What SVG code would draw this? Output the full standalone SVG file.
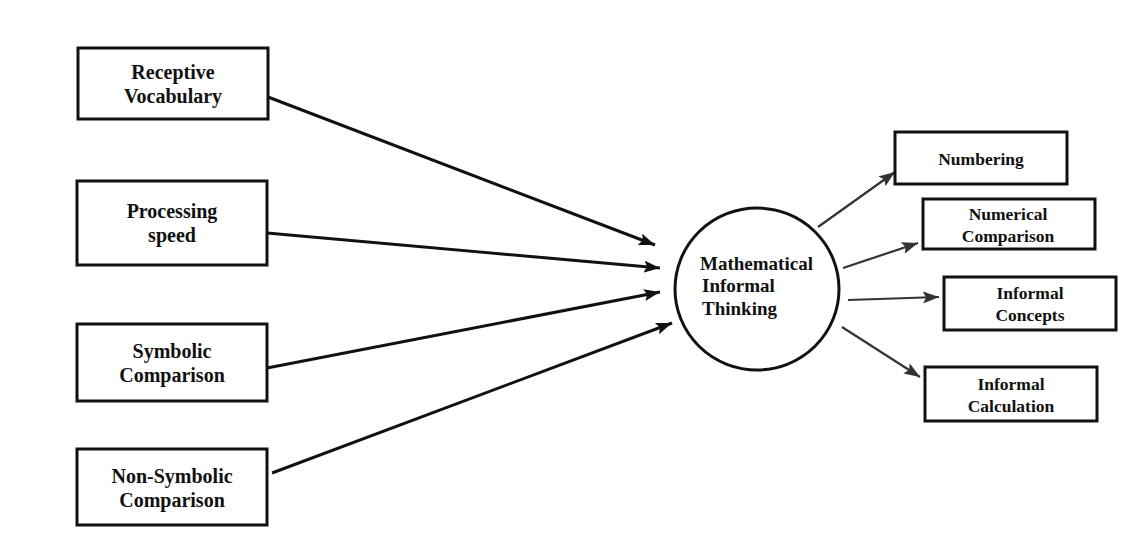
<svg xmlns="http://www.w3.org/2000/svg" width="1137" height="556" viewBox="0 0 1137 556">
<defs>
<style>
.box{fill:#fff;stroke:#111;stroke-width:3}
.t{font-family:"Liberation Serif","Times New Roman",serif;font-weight:bold;fill:#111;text-anchor:middle}
.l{font-size:20px}
.r{font-size:17.5px}
.c{font-size:19px;text-anchor:start}
.a1{stroke:#111;stroke-width:3;fill:none}
.a2{stroke:#333;stroke-width:2.2;fill:none}
</style>
<marker id="h1" viewBox="0 0 16 12" refX="16" refY="6" markerWidth="16" markerHeight="12" markerUnits="userSpaceOnUse" orient="auto">
<path d="M0,0 L16,6 L0,12 L3,6 Z" fill="#111"/>
</marker>
<marker id="h2" viewBox="0 0 16 12" refX="16" refY="6" markerWidth="16" markerHeight="12" markerUnits="userSpaceOnUse" orient="auto">
<path d="M0,0 L16,6 L0,12 L3,6 Z" fill="#333"/>
</marker>
</defs>
<rect width="1137" height="556" fill="#fff"/>
<g id="connectors">
<line class="a1" x1="268" y1="97" x2="655" y2="245" marker-end="url(#h1)"/>
<line class="a1" x1="267" y1="233" x2="660" y2="268" marker-end="url(#h1)"/>
<line class="a1" x1="267" y1="368" x2="660" y2="292" marker-end="url(#h1)"/>
<line class="a1" x1="272" y1="473" x2="672" y2="323" marker-end="url(#h1)"/>
<line class="a2" x1="818" y1="227" x2="895" y2="172" marker-end="url(#h2)"/>
<line class="a2" x1="843" y1="268" x2="918" y2="243" marker-end="url(#h2)"/>
<line class="a2" x1="848" y1="300" x2="939" y2="297" marker-end="url(#h2)"/>
<line class="a2" x1="842" y1="327" x2="920" y2="377" marker-end="url(#h2)"/>
</g>
<g id="receptive-vocabulary">
<rect class="box" x="78" y="48" width="190" height="71"/>
<text class="t l" x="173" y="79">Receptive</text>
<text class="t l" x="173" y="103">Vocabulary</text>
</g>
<g id="processing-speed">
<rect class="box" x="77" y="181" width="190" height="84"/>
<text class="t l" x="172" y="218">Processing</text>
<text class="t l" x="172" y="242">speed</text>
</g>
<g id="symbolic-comparison">
<rect class="box" x="77" y="324" width="190" height="77"/>
<text class="t l" x="172" y="358">Symbolic</text>
<text class="t l" x="172" y="382">Comparison</text>
</g>
<g id="non-symbolic-comparison">
<rect class="box" x="77" y="449" width="190" height="76"/>
<text class="t l" x="172" y="483">Non-Symbolic</text>
<text class="t l" x="172" y="507">Comparison</text>
</g>
<g id="mathematical-informal-thinking">
<ellipse cx="757" cy="289" rx="82" ry="81" fill="#fff" stroke="#111" stroke-width="3"/>
<text class="t c" x="700" y="270">Mathematical</text>
<text class="t c" x="702" y="292">Informal</text>
<text class="t c" x="702" y="315">Thinking</text>
</g>
<g id="numbering">
<rect class="box" x="895" y="132" width="172" height="52" stroke-width="2.5"/>
<text class="t r" x="981" y="165">Numbering</text>
</g>
<g id="numerical-comparison">
<rect class="box" x="923" y="199" width="172" height="50" stroke-width="2.5"/>
<text class="t r" x="1008" y="220">Numerical</text>
<text class="t r" x="1008" y="242">Comparison</text>
</g>
<g id="informal-concepts">
<rect class="box" x="944" y="277" width="172" height="53" stroke-width="2.5"/>
<text class="t r" x="1030" y="299">Informal</text>
<text class="t r" x="1030" y="321">Concepts</text>
</g>
<g id="informal-calculation">
<rect class="box" x="925" y="367" width="172" height="54" stroke-width="2.5"/>
<text class="t r" x="1011" y="390">Informal</text>
<text class="t r" x="1011" y="412">Calculation</text>
</g>
</svg>
